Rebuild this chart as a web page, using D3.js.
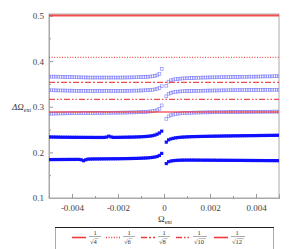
<!DOCTYPE html>
<html lang="en">
<head>
<meta charset="utf-8">
<title>Omega ext</title>
<script src="https://d3js.org/d3.v7.min.js"></script>
<style>
  body { margin: 0; background: #fff; }
  text { font-family: "Liberation Serif", "DejaVu Serif", serif; }
</style>
</head>
<body>
<svg id="chart"></svg>
<script>
// grid of Omega_ext, step 1e-4, zero left out
var omega = d3.range(-50, 51).filter(i => i !== 0).map(i => i * 1e-4);

// open markers, three upper branches (left half -0.005..-0.0001, then right half 0.0001..0.005)
var openA = [
  0.366,0.366,0.366,0.366,0.3658,0.3656,0.3655,0.3654,0.3652,0.365,
  0.365,0.3648,0.3646,0.3645,0.3644,0.3643,0.3642,0.3641,0.364,0.364,
  0.364,0.364,0.364,0.364,0.364,0.364,0.364,0.364,0.364,0.364,
  0.364,0.364,0.364,0.3641,0.3642,0.3643,0.3644,0.3645,0.3646,0.3648,
  0.365,0.3652,0.3655,0.3658,0.3662,0.3668,0.3676,0.369,0.372,0.383,
  0.346,0.355,0.358,0.3595,0.3605,0.361,0.3615,0.362,0.3623,0.3625,
  0.3628,0.363,0.3632,0.3634,0.3636,0.3638,0.364,0.364,0.3642,0.3643,
  0.3644,0.3645,0.3646,0.3647,0.3648,0.3649,0.365,0.365,0.3651,0.3652,
  0.3653,0.3654,0.3655,0.3656,0.3657,0.3658,0.3659,0.366,0.366,0.3661,
  0.3662,0.3663,0.3664,0.3665,0.3665,0.3666,0.3667,0.3668,0.3669,0.367
];
var openB = [
  0.3362,0.3361,0.336,0.3359,0.3358,0.3357,0.3356,0.3355,0.3354,0.3353,
  0.3352,0.3351,0.335,0.335,0.3349,0.3349,0.3348,0.3348,0.3348,0.3348,
  0.3348,0.3348,0.3348,0.3348,0.3348,0.3348,0.3348,0.3348,0.3348,0.3348,
  0.3348,0.3349,0.3349,0.335,0.335,0.3351,0.3352,0.3353,0.3354,0.3355,
  0.3357,0.3359,0.3361,0.3364,0.3368,0.3373,0.3381,0.3393,0.3412,0.345,
  0.323,0.3285,0.3305,0.3318,0.3326,0.3332,0.3336,0.334,0.3342,0.3344,
  0.3346,0.3347,0.3348,0.3349,0.335,0.3351,0.3352,0.3353,0.3354,0.3355,
  0.3356,0.3357,0.3357,0.3358,0.3359,0.336,0.336,0.3361,0.3362,0.3362,
  0.3363,0.3364,0.3364,0.3365,0.3365,0.3366,0.3366,0.3367,0.3367,0.3368,
  0.3368,0.3369,0.3369,0.337,0.337,0.3371,0.3371,0.3372,0.3372,0.3373
];
var openC = [
  0.2848,0.2849,0.285,0.2851,0.2852,0.2853,0.2854,0.2855,0.2856,0.2857,
  0.2858,0.2859,0.286,0.286,0.2861,0.2862,0.2862,0.2863,0.2864,0.2864,
  0.2865,0.2865,0.2866,0.2866,0.2867,0.2867,0.2868,0.2868,0.2869,0.2869,
  0.287,0.287,0.2871,0.2872,0.2873,0.2874,0.2875,0.2876,0.2878,0.288,
  0.2882,0.2885,0.2888,0.2892,0.2897,0.2903,0.2912,0.2925,0.2955,0.303,
  0.2735,0.279,0.2815,0.283,0.284,0.2848,0.2854,0.2858,0.2862,0.2865,
  0.2867,0.2869,0.2871,0.2872,0.2873,0.2874,0.2875,0.2876,0.2877,0.2878,
  0.2879,0.288,0.288,0.2881,0.2882,0.2882,0.2883,0.2884,0.2884,0.2885,
  0.2885,0.2886,0.2886,0.2887,0.2887,0.2888,0.2888,0.2889,0.2889,0.289,
  0.289,0.289,0.2891,0.2891,0.2892,0.2892,0.2892,0.2893,0.2893,0.2894
];
// filled markers, two lower branches
var fullD = [
  0.2338,0.2337,0.2336,0.2335,0.2334,0.2333,0.2332,0.2332,0.2331,0.2331,
  0.233,0.233,0.233,0.2329,0.2329,0.2329,0.2328,0.2328,0.2328,0.2328,
  0.2327,0.2327,0.2327,0.2327,0.2328,0.2335,0.2355,0.2338,0.2328,0.2328,
  0.2329,0.233,0.2331,0.2332,0.2333,0.2334,0.2335,0.2336,0.2338,0.234,
  0.2342,0.2345,0.2348,0.2352,0.2358,0.2366,0.2378,0.2398,0.2425,0.2465,
  0.2225,0.2275,0.2295,0.2308,0.2318,0.2325,0.233,0.2334,0.2337,0.234,
  0.2342,0.2344,0.2346,0.2347,0.2348,0.2349,0.235,0.2351,0.2352,0.2353,
  0.2354,0.2355,0.2356,0.2357,0.2358,0.2359,0.236,0.236,0.2361,0.2362,
  0.2363,0.2363,0.2364,0.2365,0.2365,0.2366,0.2367,0.2367,0.2368,0.2368,
  0.2369,0.237,0.237,0.2371,0.2371,0.2372,0.2373,0.2373,0.2374,0.2375
];
var fullE = [
  0.1842,0.1842,0.1843,0.1843,0.1843,0.1844,0.1844,0.1844,0.1845,0.1845,
  0.1845,0.1845,0.1846,0.1846,0.1838,0.1818,0.1838,0.1852,0.1854,0.1855,
  0.1856,0.1856,0.1857,0.1857,0.1858,0.1858,0.1859,0.1859,0.186,0.186,
  0.1861,0.1861,0.1862,0.1863,0.1864,0.1865,0.1866,0.1867,0.1868,0.187,
  0.1872,0.1874,0.1877,0.188,0.1885,0.189,0.1898,0.191,0.1932,0.1977,
  0.1755,0.1795,0.181,0.1818,0.1823,0.1826,0.1828,0.183,0.183,0.1831,
  0.1831,0.1831,0.1831,0.183,0.183,0.183,0.1829,0.1829,0.1829,0.1828,
  0.1828,0.1828,0.1827,0.1827,0.1827,0.1826,0.1826,0.1826,0.1825,0.1825,
  0.1825,0.1824,0.1824,0.1824,0.1823,0.1823,0.1823,0.1822,0.1822,0.1822,
  0.1821,0.1821,0.1821,0.182,0.182,0.182,0.1819,0.1819,0.1819,0.1818
];

// horizontal reference levels 1/sqrt(n)
var refN = ["4","6","8","10","12"];
var refValues = [0.5, 0.4082, 0.3536, 0.3162, 0.2887];
var refDash = [null, "1,1.6", "6,2,2,2", "6,2,1.5,2,1.5,2", null];

var xTicks = [-0.004,-0.002,0,0.002,0.004];
var xMinor = [-0.005,-0.003,-0.001,0.001,0.003,0.005];
var yTicks = [0.1,0.2,0.3,0.4,0.5];
var yMinor = [0.15,0.25,0.35,0.45];

var width = 299, height = 249;
var box = {left:49, right:279, top:14, bottom:198};
var red = "#f03c3c";

var svg = d3.select("#chart").attr("width", width).attr("height", height);

var xScale = d3.scaleLinear().domain([-0.005,0.005]).range([box.left, box.right]);
var yScale = d3.scaleLinear().domain([0.1,0.5]).range([box.bottom, 15.5]);

// frame
svg.append("rect")
  .attr("x", box.left).attr("y", box.top)
  .attr("width", box.right-box.left).attr("height", box.bottom-box.top)
  .attr("fill","none").attr("stroke","#aaa").attr("stroke-width",1);

// axes with inward ticks
var yAxis = d3.axisLeft(yScale).tickValues(yTicks).tickSize(-4).tickPadding(5)
  .tickFormat(d => d.toFixed(1));
var gy = svg.append("g").attr("transform","translate("+box.left+",0)").call(yAxis);
gy.selectAll(".tick line").attr("stroke","#999");
svg.append("g").attr("transform","translate("+box.left+",0)")
  .call(d3.axisLeft(yScale).tickValues(yMinor).tickSize(-2).tickFormat(""))
  .selectAll(".tick line").attr("stroke","#999");

var xAxis = d3.axisBottom(xScale).tickValues(xTicks).tickSize(-4).tickPadding(7)
  .tickFormat(d => d === 0 ? "0" : d.toFixed(3));
var gx = svg.append("g").attr("transform","translate(0,"+box.bottom+")").call(xAxis);
gx.selectAll(".tick line").attr("stroke","#999");
svg.append("g").attr("transform","translate(0,"+box.bottom+")")
  .call(d3.axisBottom(xScale).tickValues(xMinor).tickSize(-2).tickFormat(""))
  .selectAll(".tick line").attr("stroke","#999");

svg.selectAll(".domain").attr("stroke","#aaa");
svg.selectAll(".tick text").attr("font-size", 9).attr("fill","#444")
  .style("font-family","'Liberation Serif', serif");

// markers
var clip = svg.append("clipPath").attr("id","plotClip").append("rect")
  .attr("x", box.left).attr("y", box.top).attr("width", box.right-box.left).attr("height", box.bottom-box.top);
var plot = svg.append("g").attr("clip-path","url(#plotClip)");

[openA, openB, openC].forEach(function(series) {
  plot.append("g").selectAll("rect")
    .data(series)
    .enter().append("rect")
    .attr("x", (d,i) => xScale(omega[i]) - 1.4)
    .attr("y", d => yScale(d) - 1.4)
    .attr("width", 2.8).attr("height", 2.8)
    .attr("fill","none").attr("stroke","#7a7aff").attr("stroke-width",0.7)
    .attr("stroke-opacity",0.85);
});
[fullD, fullE].forEach(function(series) {
  plot.append("g").selectAll("rect")
    .data(series)
    .enter().append("rect")
    .attr("x", (d,i) => xScale(omega[i]) - 1.6)
    .attr("y", d => yScale(d) - 1.6)
    .attr("width", 3.2).attr("height", 3.2)
    .attr("fill","#1010ff");
});

// reference lines
plot.append("g").selectAll("line")
  .data(refValues)
  .enter().append("line")
  .attr("x1", box.left).attr("x2", box.right)
  .attr("y1", d => yScale(d)).attr("y2", d => yScale(d))
  .attr("stroke", red)
  .attr("stroke-opacity", (d,i) => i === 4 ? 0.6 : 0.9)
  .attr("stroke-width", (d,i) => (i === 0 || i === 4) ? 2 : 1.2)
  .attr("stroke-dasharray", (d,i) => refDash[i]);

// axis titles
var yt = svg.append("text").attr("x", 12).attr("y", 110).attr("font-size", 9).attr("fill","#333");
yt.append("tspan").attr("font-style","italic").text("ΔΩ");
yt.append("tspan").attr("font-size", 6).attr("dy", 2).text("ext");

var xt = svg.append("text").attr("x", 158).attr("y", 222).attr("font-size", 9).attr("fill","#333");
xt.append("tspan").text("Ω");
xt.append("tspan").attr("font-size", 6).attr("dy", 2).text("ext");

// legend
var lg = svg.append("g");
lg.append("rect").attr("x", 55.5).attr("y", 227.5).attr("width", 218).attr("height", 40)
  .attr("fill","#fff").attr("stroke","#aaa");
lg.append("line").attr("x1", 55).attr("x2", 274).attr("y1", 227.5).attr("y2", 227.5)
  .attr("stroke","#222");

var legX = [72, 106, 141, 176, 214];
var item = lg.selectAll("g.item").data(refN).enter().append("g").attr("class","item")
  .attr("transform", (d,i) => "translate(" + legX[i] + ",0)");
item.append("line")
  .attr("x1", 0).attr("x2", 14).attr("y1", 237.5).attr("y2", 237.5)
  .attr("stroke", red).attr("stroke-width", 1.6)
  .attr("stroke-dasharray", (d,i) => refDash[i]);
item.append("text").attr("x", 23).attr("y", 234.5).attr("text-anchor","middle")
  .attr("font-size", 6.5).attr("fill","#333").text("1");
item.append("line").attr("x1", 17).attr("x2", (d) => d.length > 1 ? 31 : 29)
  .attr("y1", 236.5).attr("y2", 236.5).attr("stroke","#555").attr("stroke-width",0.5);
item.append("text").attr("x", 18).attr("y", 243.5)
  .attr("font-size", 6.5).attr("fill","#333").text(d => "√" + d);
item.append("line").attr("x1", 22.5).attr("x2", d => d.length > 1 ? 30 : 26.5)
  .attr("y1", 238.6).attr("y2", 238.6).attr("stroke","#555").attr("stroke-width",0.4);
</script>
</body>
</html>
